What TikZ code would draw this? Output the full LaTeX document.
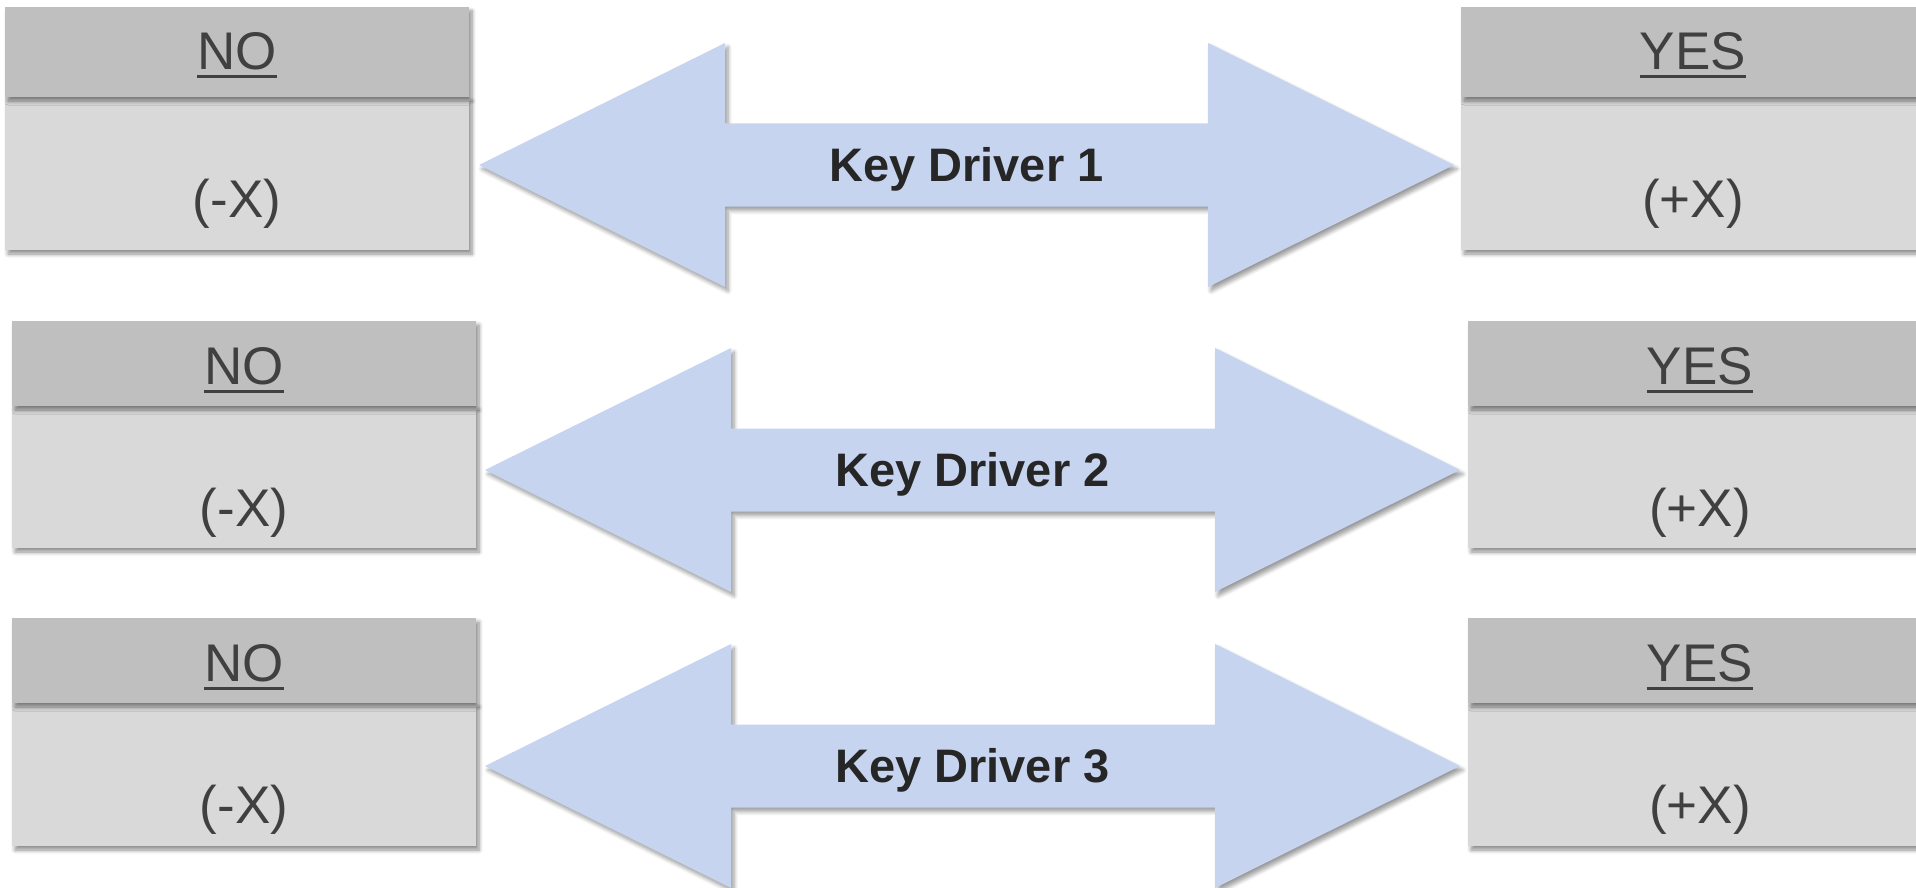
\documentclass[tikz,border=0pt]{standalone}
\usepackage{fontspec}
\setmainfont{Liberation Sans}
\usetikzlibrary{shadows.blur}
\definecolor{hdr}{HTML}{BFBFBF}
\definecolor{bdy}{HTML}{D9D9D9}
\definecolor{txt}{HTML}{404040}
\definecolor{arw}{HTML}{C6D4EF}
\definecolor{kd}{HTML}{262626}
\newcommand{\ulword}[1]{\setbox0\hbox{#1}\rlap{\rule[-8.5pt]{\wd0}{3pt}}\box0}
\begin{document}
\begin{tikzpicture}[x=1pt,y=-1pt,
  softshadow/.style={blur shadow={shadow xshift=3pt, shadow yshift=-4pt, shadow blur radius=4pt, shadow blur steps=6, shadow opacity=45}},
  boxpart/.style={rectangle, inner sep=0pt, outer sep=0pt, minimum width=464pt, anchor=north west, softshadow},
  hdrbox/.style={boxpart, fill=hdr},
  bdybox/.style={boxpart, fill=bdy},
  lbl/.style={anchor=base, text=txt, font=\fontsize{53}{60}\selectfont, inner sep=0pt},
  kdlbl/.style={anchor=base, text=kd, font=\bfseries\fontsize{47}{54}\selectfont, inner sep=0pt},
  arrowshape/.style={fill=arw, blur shadow={shadow xshift=3pt, shadow yshift=-4pt, shadow blur radius=4pt, shadow blur steps=6, shadow opacity=40}}]
\useasboundingbox (0,0) rectangle (1916,888);
\clip (0,0) rectangle (1916,888);
\foreach \r/\lx/\rxx/\t/\hb/\b/\atl/\abl/\abr/\atr/\cy in {1/5/1461/7/97/250/479/725/1208/1454/165, 2/12/1468/321/406/548/485/731/1215/1460/470, 3/12/1468/618/703/846/485/731/1215/1460/766}{
  \pgfmathsetmacro{\hh}{\hb-\t}
  \pgfmathsetmacro{\bh}{\b-\hb}
  % left (NO) box
  \node[bdybox, minimum height=\bh pt] (nb\r) at (\lx,\hb) {};
  \node[hdrbox, minimum height=\hh pt] (nh\r) at (\lx,\t) {};
  \node[lbl] (not\r) at ({\lx+232},{\t+63}) {\ulword{NO}};
  \node[lbl] (nov\r) at ({\lx+232},{\hb+120}) {(-X)};
  % right (YES) box
  \node[bdybox, minimum height=\bh pt] (yb\r) at (\rxx,\hb) {};
  \node[hdrbox, minimum height=\hh pt] (yh\r) at (\rxx,\t) {};
  \node[lbl] (yest\r) at ({\rxx+232},{\t+63}) {\ulword{YES}};
  \node[lbl] (yesv\r) at ({\rxx+232},{\hb+120}) {(+X)};
  % double arrow
  \coordinate (al\r) at (\atl,\cy);
  \coordinate (ar\r) at (\atr,\cy);
  \fill[arrowshape] (al\r) -- ({\abl},{\cy-122}) -- ({\abl},{\cy-41.5}) -- ({\abr},{\cy-41.5}) -- ({\abr},{\cy-122}) -- (ar\r) -- ({\abr},{\cy+122}) -- ({\abr},{\cy+41.5}) -- ({\abl},{\cy+41.5}) -- ({\abl},{\cy+122}) -- cycle;
  \node[kdlbl] (kd\r) at ({(\atl+\atr)/2},{\cy+16}) {Key Driver \r};
}
\end{tikzpicture}
\end{document}
